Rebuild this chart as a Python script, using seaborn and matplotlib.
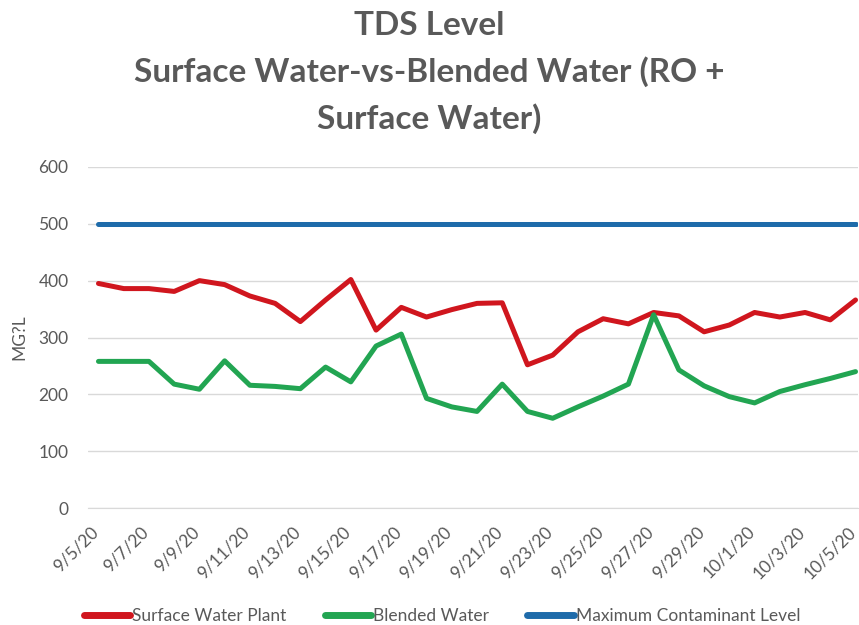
import pandas as pd
import numpy as np
import matplotlib
matplotlib.use("Agg")
import matplotlib.pyplot as plt
import matplotlib.dates as mdates
import matplotlib.transforms as mtrans
import seaborn as sns

# Datos
fechas = pd.date_range("2020-09-05", "2020-10-05", freq="D")
surface = [395, 386, 386, 381, 400, 393, 373, 360, 328, 366, 402,
           313, 353, 336, 349, 360, 361, 252, 269, 310, 333,
           324, 344, 338, 310, 322, 344, 336, 344, 331, 366]
blended = [258, 258, 258, 218, 209, 259, 216, 214, 210, 248, 222,
           285, 306, 193, 178, 170, 218, 170, 158, 178, 197,
           218, 340, 243, 215, 196, 185, 205, 217, 228, 240]
mcl = [500] * len(fechas)

data = pd.DataFrame({"Fecha": fechas, "Surface": surface,
                     "Blended": blended, "MCL": mcl})

gris = "#595959"
sns.set_style("white")
plt.rcParams["font.family"] = ["Lato", "DejaVu Sans"]

fig = plt.figure(figsize=(8.59, 6.25), dpi=100)
ax = fig.add_axes([0.1024, 0.187, 0.896, 0.546])

sns.lineplot(data=data, x="Fecha", y="Surface", ax=ax, color="#D0161E",
             linewidth=3.6, label="Surface Water Plant")
sns.lineplot(data=data, x="Fecha", y="Blended", ax=ax, color="#22A552",
             linewidth=3.6, label="Blended Water")
sns.lineplot(data=data, x="Fecha", y="MCL", ax=ax, color="#1E6BAA",
             linewidth=3.6, label="Maximum Contaminant Level")

ax.set_ylim(0, 600)
ax.set_yticks(range(0, 601, 100))
inicio = fechas[0] - pd.Timedelta(hours=10)
ax.set_xlim(inicio, fechas[-1] + pd.Timedelta(hours=2))
ax.xaxis.set_major_locator(mdates.DayLocator(interval=2))
ax.xaxis.set_major_formatter(mdates.DateFormatter("%-m/%-d/%y"))
ax.set_xticks(pd.date_range(inicio, fechas[-1], freq="2D"), minor=True)
ax.grid(axis="y", color="#D9D9D9", linewidth=1)
for s in ["top", "right", "left"]:
    ax.spines[s].set_visible(False)
ax.spines["bottom"].set_color("#D9D9D9")
ax.tick_params(axis="y", length=0, labelsize=12.5, labelcolor=gris, pad=14)
ax.tick_params(axis="x", which="major", length=0, labelsize=12.5, labelcolor=gris, pad=11)
ax.tick_params(axis="x", which="minor", length=5, color="#D9D9D9")
desplaza = mtrans.ScaledTranslation(-6 / 72, 0, fig.dpi_scale_trans)
for lab in ax.get_xticklabels():
    lab.set_rotation(45)
    lab.set_ha("right")
    lab.set_rotation_mode("anchor")
    lab.set_transform(lab.get_transform() + desplaza)
ax.set_xlabel("")
ax.set_ylabel("MG?L", color=gris, fontsize=12.5, labelpad=8)

fig.suptitle("TDS Level\nSurface Water-vs-Blended Water (RO +\nSurface Water)",
             y=0.982, fontsize=24, fontweight="bold", color=gris, linespacing=1.62)

leg = ax.legend(loc="center", bbox_to_anchor=(0.46, -0.315), ncol=3, frameon=False,
                fontsize=12.5, handlelength=2.7, handletextpad=0.1, columnspacing=2.2)
for t in leg.get_texts():
    t.set_color(gris)
for h in leg.get_lines():
    h.set_linewidth(5)

fig.savefig("out.png", dpi=100, facecolor="white")
